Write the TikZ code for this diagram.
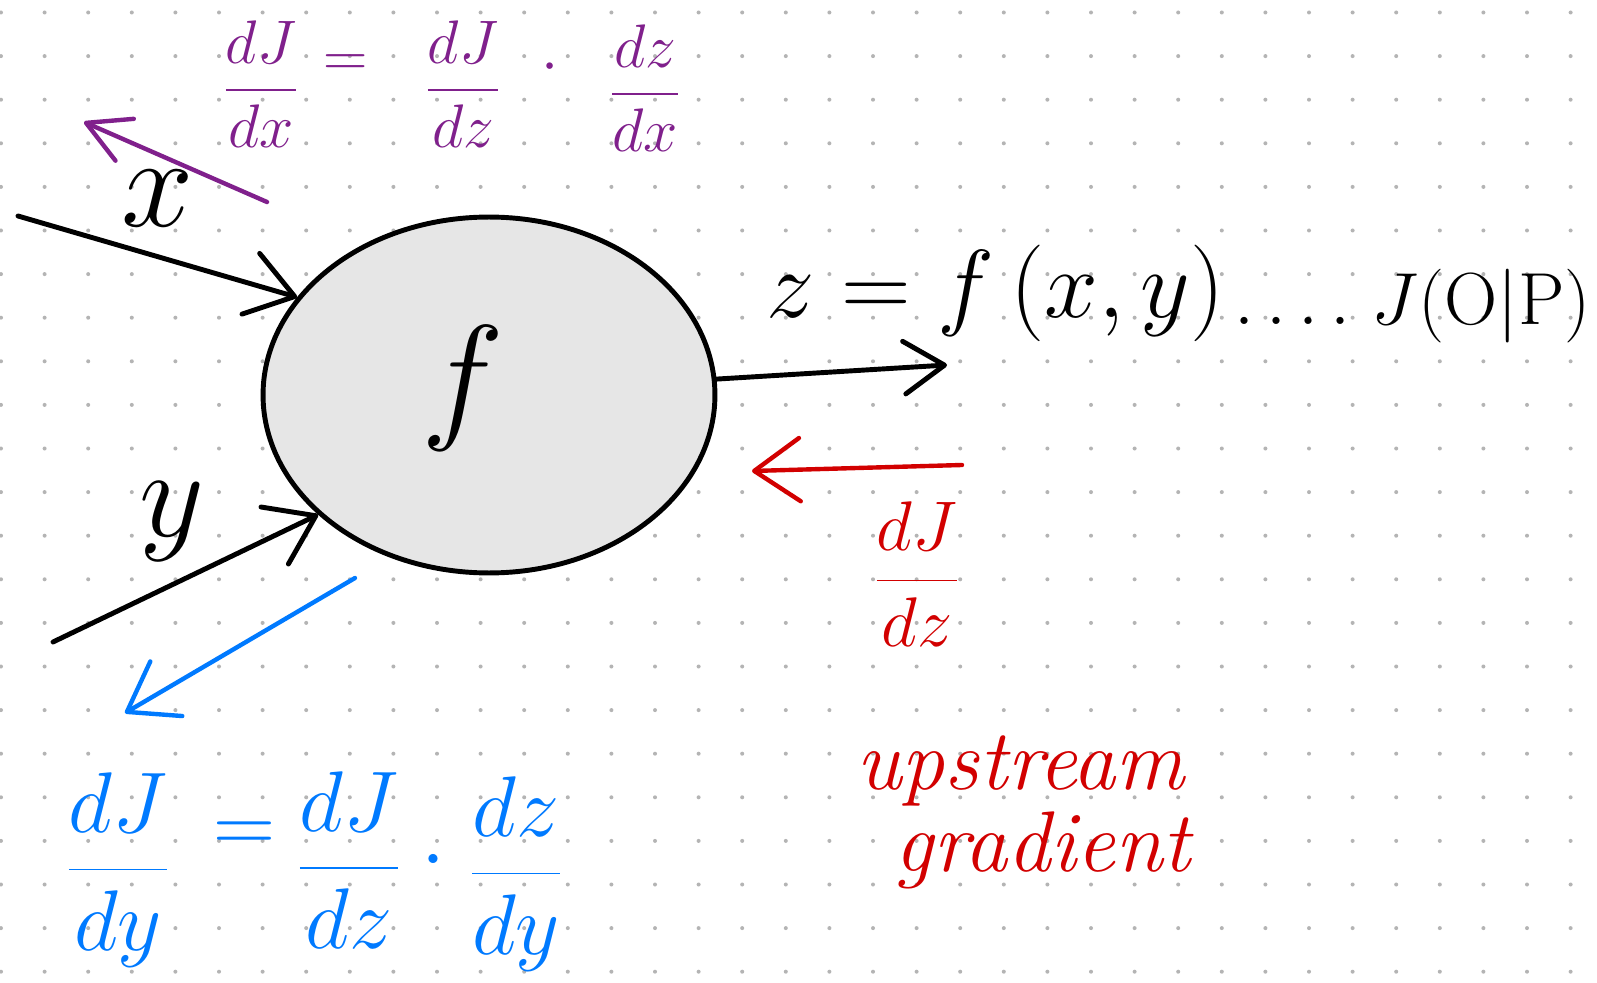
\RequirePackage{fix-cm}
\documentclass[tikz,border=0pt]{standalone}
\usepackage{amsmath}
\usetikzlibrary{arrows.meta,shapes.geometric}
\definecolor{gpurple}{HTML}{80208C}
\definecolor{gred}{HTML}{D20000}
\definecolor{gblue}{HTML}{007AFF}
\definecolor{gdot}{HTML}{B4B4B4}
\definecolor{gfill}{HTML}{E6E6E6}
\tikzset{
  ink/.style={line width=2.8pt, line cap=round, line join=round},
  cink/.style={line width=2.5pt, line cap=round, line join=round},
  hand/.style={inner sep=0pt, outer sep=0pt, font=\fontsize{#1}{#1}\selectfont},
  bighead/.style={-{Straight Barb[length=26pt,width=36pt,round]}},
  midhead/.style={-{Straight Barb[length=23pt,width=30pt,round]}},
  smallhead/.style={-{Straight Barb[length=24pt,width=26pt,round]}},
}
\begin{document}
\begin{tikzpicture}[x=0.02cm,y=-0.02cm]
\useasboundingbox (0,0) rectangle (1597,983);
\fill[white] (0,0) rectangle (1597,983);
% dotted grid
\foreach \i in {0,...,36}{
  \foreach \j in {0,...,22}{
    \fill[gdot] ({1+43.6*\i},{12.5+43.6*\j}) circle[radius=2];
  }
}
% function node
\node[ellipse, draw, fill=gfill, line width=2.8pt, minimum width=9.04cm, minimum height=7.12cm, inner sep=0pt] (F) at (489,395) {};
\node[hand=80] (flabel) at (463,388) {$f$};

% inputs
\coordinate (xin) at (18,216);
\coordinate (yin) at (53,642);
\draw[ink,bighead] (xin) -- (F.153);
\draw[ink,bighead] (yin) -- (F.215);
\node[hand=74] (xlabel) at (158,199) {$x$};
\node[hand=72] (ylabel) at (172,522) {$y$};

% output
\coordinate (zout) at (947,365);
\draw[ink,midhead] (F.4) -- (zout);
\node[hand=55, anchor=west] (zeq) at (766,293) {$z=f\,(x,y)$};
\node[hand=42, anchor=west] (jout) at (1234,306) {$.\,.\,.\,.\;J(\mathrm{O|P})$};

% upstream gradient (red)
\coordinate (rs) at (962,465);
\coordinate (re) at (752,471);
\draw[cink,gred,bighead] (rs) -- (re);
\node[hand=40, text=gred] (dJdz) at (917,574) {$\dfrac{dJ}{dz}$};
\node[text=gred, anchor=west, inner sep=0pt, font=\fontsize{49}{49}\selectfont\itshape] (up1) at (856,771) {upstream};
\node[text=gred, anchor=west, inner sep=0pt, font=\fontsize{49}{49}\selectfont\itshape] (up2) at (894,850) {gradient};

% purple: gradient wrt x
\coordinate (ps) at (267,202);
\coordinate (pe) at (84,122);
\draw[cink,gpurple,smallhead] (ps) -- (pe);
\node[hand=35, text=gpurple] (p1) at (261,84) {$\dfrac{dJ}{dx}$};
\node[hand=35, text=gpurple] (p2) at (346,66) {$=$};
\node[hand=35, text=gpurple] (p3) at (463,84) {$\dfrac{dJ}{dz}$};
\node[hand=35, text=gpurple] (p4) at (550,68) {$\cdot$};
\node[hand=35, text=gpurple] (p5) at (645,88) {$\dfrac{dz}{dx}$};

% blue: gradient wrt y
\coordinate (bs) at (355,578);
\coordinate (be) at (125,713);
\draw[cink,gblue,bighead] (bs) -- (be);
\node[hand=49, text=gblue] (b1) at (118,870) {$\dfrac{dJ}{dy}$};
\node[hand=49, text=gblue] (b2) at (244,837) {$=$};
\node[hand=49, text=gblue] (b3) at (349,860) {$\dfrac{dJ}{dz}$};
\node[hand=49, text=gblue] (b4) at (433,861) {$\cdot$};
\node[hand=49, text=gblue] (b5) at (516,874) {$\dfrac{dz}{dy}$};
\end{tikzpicture}
\end{document}
